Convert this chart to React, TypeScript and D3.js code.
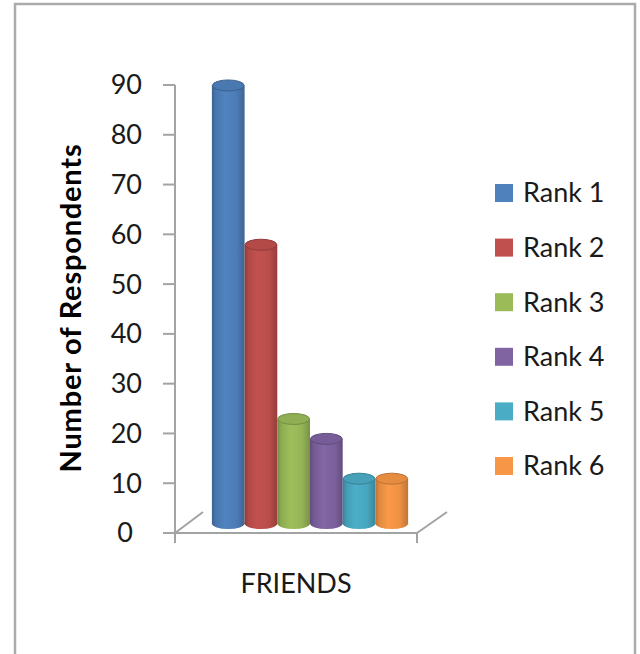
import React from 'react';
import * as d3 from 'd3';

const categories = ['FRIENDS'];
const seriesNames = ['Rank 1', 'Rank 2', 'Rank 3', 'Rank 4', 'Rank 5', 'Rank 6'];
const seriesValues = [88, 56, 21, 17, 9, 9];
const seriesColors = ['#4F81BD', '#C0504D', '#9BBB59', '#8064A2', '#4BACC6', '#F79646'];
const yTicks = [0, 10, 20, 30, 40, 50, 60, 70, 80, 90];
const yTitle = 'Number of Respondents';

export default function App() {
  const W = 640;
  const H = 654;
  const font = 'Lato, "Open Sans", sans-serif';
  const axisColor = '#a3a3a3';

  const y = d3.scaleLinear().domain([0, 90]).range([533, 85]);
  const x = d3.scaleBand<string>().domain(categories).range([175, 417]);
  const back = { dx: 28, dy: -21 };
  const mid = { dx: 14, dy: -9.5 };
  const x0 = x(categories[0]) as number;
  const inner = d3
    .scaleBand<string>()
    .domain(seriesNames)
    .range([x0, x0 + x.bandwidth()])
    .paddingOuter(0.7)
    .paddingInner(0);
  const bw = inner.bandwidth();
  const ry = 5.5;
  const base = y(0) + mid.dy;

  const legendY = d3.scalePoint<string>().domain(seriesNames).range([193, 466]);

  return (
    <svg
      width={W}
      height={H}
      style={{ position: 'absolute', left: 0, top: 0, background: '#fff' }}
    >
      <defs>
        {seriesColors.map((c, i) => {
          const col = d3.color(c)!;
          return (
            <linearGradient id={`cyl${i}`} key={i} x1="0" x2="1" y1="0" y2="0">
              <stop offset="0%" stopColor={col.darker(0.8).formatHex()} />
              <stop offset="12%" stopColor={col.darker(0.25).formatHex()} />
              <stop offset="40%" stopColor={col.brighter(0.05).formatHex()} />
              <stop offset="75%" stopColor={col.darker(0.1).formatHex()} />
              <stop offset="100%" stopColor={col.darker(0.7).formatHex()} />
            </linearGradient>
          );
        })}
      </defs>

      {/* chart border */}
      <rect x={15} y={4} width={620} height={700} fill="none" stroke="#ababab" strokeWidth={2.5} />

      {/* axes */}
      <g stroke={axisColor} strokeWidth={2} fill="none">
        <line x1={175} y1={y(90)} x2={175} y2={y(0) + 10} />
        {yTicks.map((t) => (
          <line key={t} x1={163} y1={y(t)} x2={175} y2={y(t)} />
        ))}
        <line x1={163} y1={y(0)} x2={417} y2={y(0)} />
        <line x1={417} y1={y(0)} x2={417} y2={y(0) + 10} />
        <line x1={175} y1={y(0)} x2={175 + back.dx} y2={y(0) + back.dy} />
        <line x1={417} y1={y(0)} x2={417 + back.dx + 2} y2={y(0) + back.dy} />
      </g>

      {/* tick labels */}
      <g fontFamily={font} fontSize={27} fill="#1a1a1a" textAnchor="end">
        {yTicks.map((t) => (
          <text key={t} x={t === 0 ? 133 : 142} y={y(t)} dy="0.35em">
            {t}
          </text>
        ))}
      </g>

      {/* y title */}
      <text
        transform={`translate(81,308) rotate(-90)`}
        textAnchor="middle"
        fontFamily={font}
        fontWeight="bold"
        fontSize={29}
        letterSpacing={0.8}
        fill="#000"
      >
        {yTitle}
      </text>

      {/* category label */}
      <text
        x={x0 + x.bandwidth() / 2}
        y={593}
        textAnchor="middle"
        fontFamily={font}
        fontSize={27}
        fill="#1a1a1a"
      >
        {categories[0]}
      </text>

      {/* cylinders */}
      {seriesNames.map((name, i) => {
        const left = (inner(name) as number) + mid.dx;
        const cx = left + bw / 2;
        const top = y(seriesValues[i]) + mid.dy;
        const col = d3.color(seriesColors[i])!;
        return (
          <g key={name}>
            <ellipse cx={cx} cy={base} rx={bw / 2} ry={ry} fill={`url(#cyl${i})`} />
            <rect x={left} y={top} width={bw} height={base - top} fill={`url(#cyl${i})`} />
            <ellipse
              cx={cx}
              cy={top}
              rx={bw / 2 - 0.5}
              ry={ry}
              fill={col.darker(0.2).formatHex()}
              stroke={col.darker(0.8).formatHex()}
              strokeWidth={1}
            />
          </g>
        );
      })}

      {/* legend */}
      <g fontFamily={font} fontSize={27} fill="#1a1a1a">
        {seriesNames.map((name, i) => {
          const cy = legendY(name) as number;
          return (
            <g key={name}>
              <rect x={495} y={cy - 9} width={18} height={18} fill={seriesColors[i]} />
              <text x={523} y={cy} dy="0.35em">
                {name}
              </text>
            </g>
          );
        })}
      </g>
    </svg>
  );
}
